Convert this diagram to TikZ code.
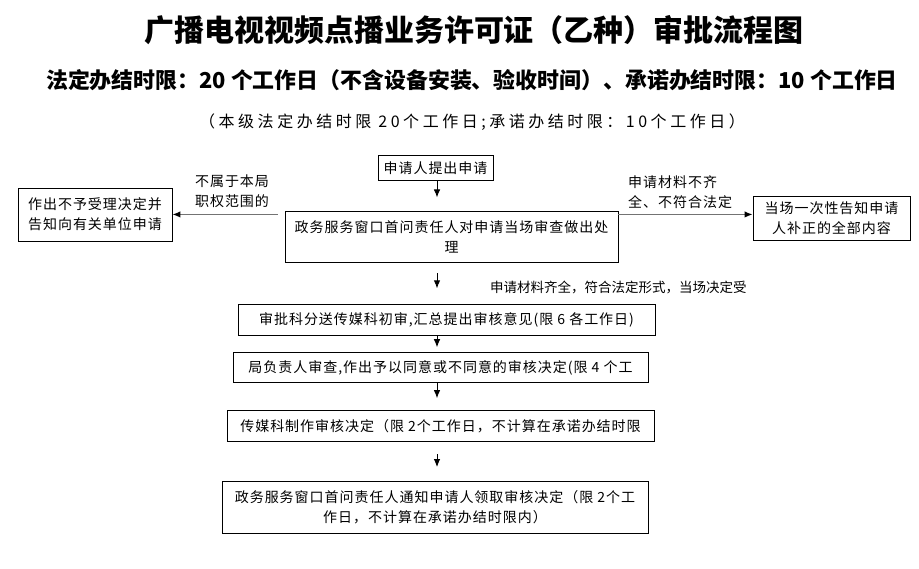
\documentclass[tikz,border=0pt]{standalone}
\usepackage{fontspec}
\newfontfamily\cjk{Noto Sans CJK SC}
\newfontfamily\cjkwide{Noto Sans CJK SC}[LetterSpace=7]
\usepackage{tikz}
\usetikzlibrary{positioning,arrows.meta,calc}

\newcommand{\boxfont}{\cjkwide\fontsize{14pt}{20pt}\selectfont}

\begin{document}
\begin{tikzpicture}[
    x=1pt,y=-1pt,
    stepbox/.style={rectangle,draw=black,line width=0.9pt,font=\boxfont,align=center,inner sep=0pt},
    arrow/.style={-{Latex[length=8pt,width=6.5pt]},line width=0.9pt,black},
    sidearrow/.style={-{Latex[length=8pt,width=6.5pt,color=black]},line width=1.3pt,black!55},
    note/.style={font=\boxfont,align=left,inner sep=0pt}
]
\useasboundingbox (0,0) rectangle (919,569);

\node[font=\cjk\bfseries\fontsize{30pt}{32pt}\selectfont] (title) at (474,30) {广播电视视频点播业务许可证（乙种）审批流程图};
\node[font=\cjk\bfseries\fontsize{21.9pt}{23pt}\selectfont] (limits) at (472,80) {法定办结时限：20 个工作日（不含设备安装、验收时间）、承诺办结时限：10 个工作日};
\node[font=\cjk\fontsize{16pt}{18pt}\selectfont\addfontfeature{LetterSpace=22}] (sublimits) at (472,122) {（本级法定办结时限 20个工作日;承诺办结时限：10个工作日）};

\node[stepbox,minimum width=115pt,minimum height=25pt] (apply) at (435.5,168) {申请人提出申请};
\node[stepbox,minimum width=333pt,minimum height=51pt,below=30.5pt of apply,xshift=16pt] (check) {政务服务窗口首问责任人对申请当场审查做出处\\理};
\node[stepbox,minimum width=154pt,minimum height=53pt] (reject) at (95,214.5) {作出不予受理决定并\\告知向有关单位申请};
\node[stepbox,minimum width=157pt,minimum height=44pt] (notify) at (831.5,218) {当场一次性告知申请\\人补正的全部内容};
\node[stepbox,minimum width=417pt,minimum height=31pt,below=41pt of check,xshift=-5pt] (review) {审批科分送传媒科初审,汇总提出审核意见(限 6 各工作日)};
\node[stepbox,minimum width=415pt,minimum height=30pt,below=16pt of review,xshift=-6pt] (decide) {局负责人审查,作出予以同意或不同意的审核决定(限 4 个工};
\node[stepbox,minimum width=427pt,minimum height=31pt,below=27pt of decide] (produce) {传媒科制作审核决定（限 2个工作日，不计算在承诺办结时限};
\node[stepbox,minimum width=426pt,minimum height=52pt,below=39pt of produce,xshift=-5.5pt] (inform) {政务服务窗口首问责任人通知申请人领取审核决定（限 2个工\\作日，不计算在承诺办结时限内）};

% vertical flow
\coordinate (spine) at (437,0);
\draw[arrow,shorten >=14pt] (spine |- apply.south) -- (spine |- check.north);
\draw[arrow,shorten <=10pt,shorten >=16pt] (spine |- check.south) -- (spine |- review.north);
\draw[arrow,shorten >=5pt] (spine |- review.south) -- (spine |- decide.north);
\draw[arrow,shorten >=12pt] (spine |- decide.south) -- (spine |- produce.north);
\draw[arrow,shorten <=12pt,shorten >=14pt] (spine |- produce.south) -- (spine |- inform.north);

% side branches
\coordinate (lft) at ([xshift=-7pt,yshift=-3pt]check.north west);
\draw[sidearrow] (lft) -- (lft -| reject.east);
\coordinate (rgt) at ([yshift=-3pt]check.north east);
\draw[sidearrow] (rgt) -- (rgt -| notify.west);

\node[note,align=center] (outscope) at (232,191.5) {不属于本局\\职权范围的};
\node[note,anchor=west] (incomplete) at (628,192) {申请材料不齐\\全、不符合法定};
\node[note,anchor=west,font=\cjk\fontsize{13.5pt}{15pt}\selectfont] (accepted) at (490,287) {申请材料齐全，符合法定形式，当场决定受};

\end{tikzpicture}
\end{document}
